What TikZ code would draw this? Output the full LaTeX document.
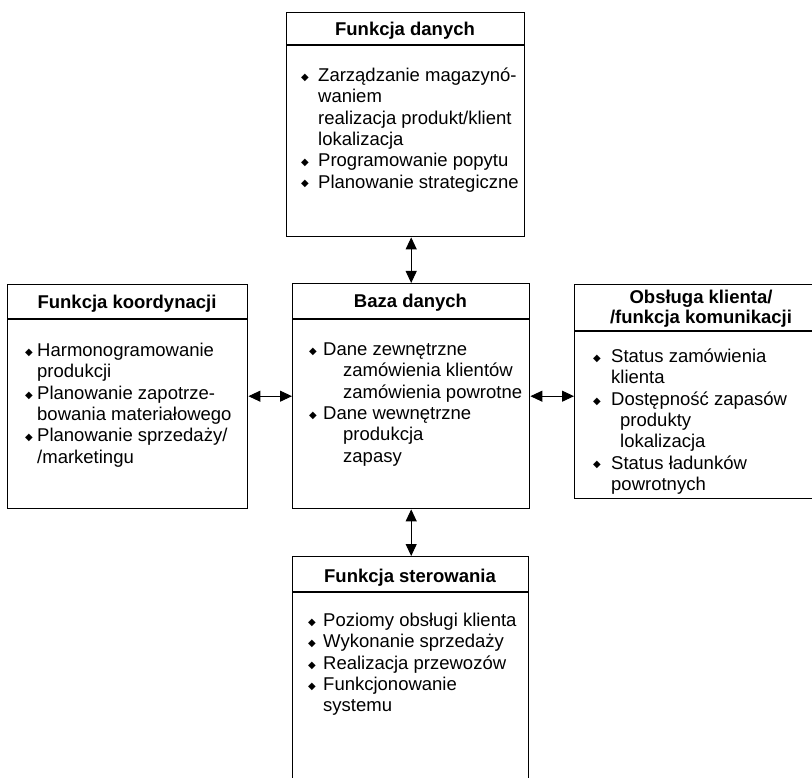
\documentclass[tikz,border=0pt]{standalone}
\usepackage{fontspec}
\setmainfont{Liberation Sans}
\newfontfamily\symfont{DejaVu Sans}
\usetikzlibrary{arrows.meta}

% bullet with its own gap to the text
\newcommand{\itm}[1][14]{\strut\makebox[#1pt][l]{\raisebox{1.2pt}{\symfont\fontsize{10}{10}\selectfont ◆}}}
\newcommand{\ind}[1]{\hspace*{#1pt}}

\tikzset{
  box/.style={draw, line width=1.4pt, anchor=north west, inner sep=0pt},
  title/.style={font=\bfseries\fontsize{18.5}{20}\selectfont, inner sep=0pt, align=center},
  body/.style={font=\fontsize{18.5}{21.3}\selectfont, anchor=north west, inner sep=0pt, align=left},
  link/.style={{Triangle[length=12pt,width=11pt]}-{Triangle[length=12pt,width=11pt]}, line width=1pt},
}

\begin{document}
\begin{tikzpicture}[x=1pt,y=-1pt]
    \useasboundingbox (0,0) rectangle (812,778);
    \fill[white] (0,0) rectangle (812,778);

    % boxes
    \node[box, minimum width=238pt, minimum height=224pt] (dane) at (286,12) {};
    \node[box, minimum width=240pt, minimum height=224pt] (koord) at (7,284) {};
    \node[box, minimum width=237pt, minimum height=225pt] (baza) at (292,283) {};
    \node[box, minimum width=254pt, minimum height=214pt] (klient) at (574,284) {};
    \node[box, minimum width=236pt, minimum height=250pt] (ster) at (292,556) {};

    % title bands
    \draw[line width=1.2pt] ([yshift=-33pt]dane.north west) -- ([yshift=-33pt]dane.north east);
    \draw[line width=1.2pt] ([yshift=-35pt]koord.north west) -- ([yshift=-35pt]koord.north east);
    \draw[line width=1.2pt] ([yshift=-36pt]baza.north west) -- ([yshift=-36pt]baza.north east);
    \draw[line width=1.2pt] ([yshift=-47pt]klient.north west) -- ([yshift=-47pt]klient.north east);
    \draw[line width=1.2pt] ([yshift=-36pt]ster.north west) -- ([yshift=-36pt]ster.north east);

    % titles
    \node[title, anchor=north] (daneT) at (405,21) {\strut Funkcja danych};
    \node[title, anchor=north] (koordT) at (127,294) {\strut Funkcja koordynacji};
    \node[title, anchor=north] (bazaT) at (410.5,293) {\strut Baza danych};
    \node[title, anchor=north] (klientT) at (701,289) {\strut Obsługa klienta/\\/funkcja komunikacji};
    \node[title, anchor=north] (sterT) at (410,568) {\strut Funkcja sterowania};

    % contents
    \node[body] (daneB) at (301,66.5) {%
      \itm[17]Zarządzanie magazynó-\\
      \ind{17}waniem\\
      \ind{17}realizacja produkt/klient\\
      \ind{17}lokalizacja\\
      \itm[17]Programowanie popytu\\
      \itm[17]Planowanie strategiczne};
    \node[body] (koordB) at (25,341.5) {%
      \itm[12]Harmonogramowanie\\
      \ind{12}produkcji\\
      \itm[12]Planowanie zapotrze-\\
      \ind{12}bowania materiałowego\\
      \itm[12]Planowanie sprzedaży/\\
      \ind{12}/marketingu};
    \node[body] (bazaB) at (309,340.5) {%
      \itm Dane zewnętrzne\\
      \ind{34}zamówienia klientów\\
      \ind{34}zamówienia powrotne\\
      \itm Dane wewnętrzne\\
      \ind{34}produkcja\\
      \ind{34}zapasy};
    \node[body] (klientB) at (593,347.5) {%
      \itm[18]Status zamówienia\\
      \ind{18}klienta\\
      \itm[18]Dostępność zapasów\\
      \ind{27}produkty\\
      \ind{27}lokalizacja\\
      \itm[18]Status ładunków\\
      \ind{18}powrotnych};
    \node[body] (sterB) at (308,611.5) {%
      \itm[15]Poziomy obsługi klienta\\
      \itm[15]Wykonanie sprzedaży\\
      \itm[15]Realizacja przewozów\\
      \itm[15]Funkcjonowanie\\
      \ind{15}systemu};

    % links
    \draw[link] (baza.north) -- (baza.north |- dane.south);
    \draw[link] (baza.west) -- (baza.west -| koord.east);
    \draw[link] (baza.east) -- (baza.east -| klient.west);
    \draw[link] (baza.south) -- (baza.south |- ster.north);
\end{tikzpicture}
\end{document}
